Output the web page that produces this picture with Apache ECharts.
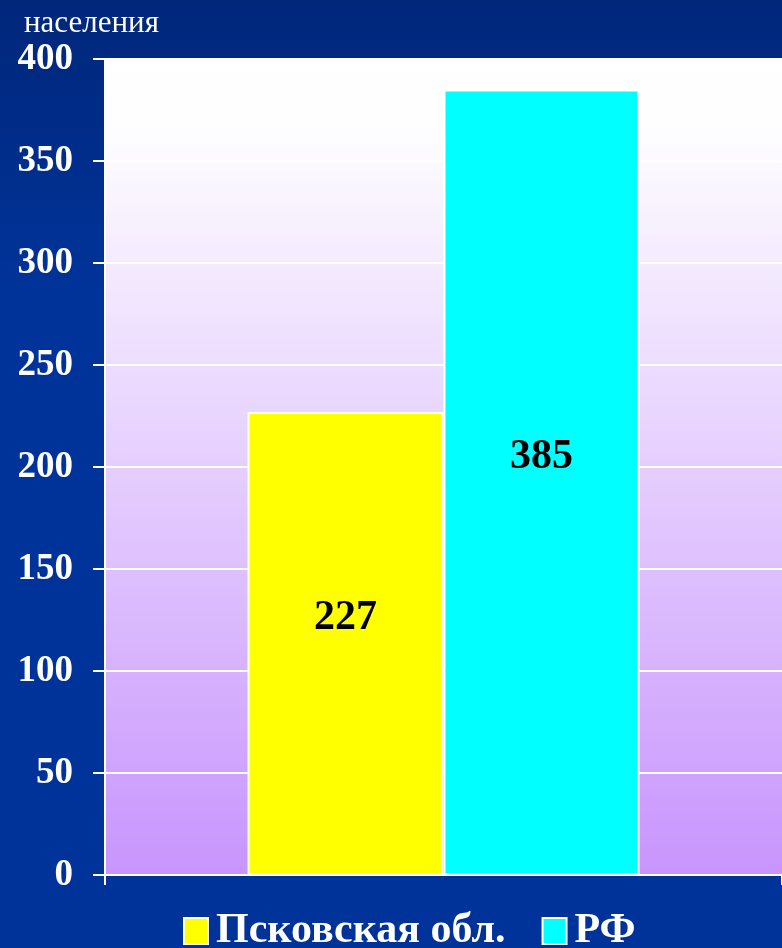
<!DOCTYPE html>
<html>
<head>
<meta charset="utf-8">
<script src="https://cdn.jsdelivr.net/npm/echarts@6/dist/echarts.min.js"></script>
<style>
html,body{margin:0;padding:0;background:#003399;}
#c{width:782px;height:948px;}
</style>
</head>
<body>
<div id="c"></div>
<script>
var titleText = 'населения';
var categories = [''];
var seriesNames = ['Псковская обл.', 'РФ'];
var pskovValues = [227];
var rfValues = [385];
var yTicks = [0, 50, 100, 150, 200, 250, 300, 350, 400];

var serif = '"Liberation Serif", "Times New Roman", serif';
var chart = echarts.init(document.getElementById('c'));
chart.setOption({
  backgroundColor: {
    type: 'linear', x: 0, y: 0, x2: 0, y2: 1,
    colorStops: [
      {offset: 0, color: '#00277a'},
      {offset: 0.3, color: '#003399'},
      {offset: 1, color: '#003399'}
    ]
  },
  animation: false,
  title: {
    text: titleText,
    left: 19, top: 3,
    textStyle: {color: '#ffffff', fontFamily: serif, fontWeight: 'normal', fontSize: 31}
  },
  legend: {
    data: seriesNames,
    left: 183, top: 910, padding: 0,
    itemWidth: 24, itemHeight: 26, itemGap: 36,
    icon: 'rect',
    itemStyle: {borderColor: '#ffffff', borderWidth: 2},
    textStyle: {color: '#ffffff', fontFamily: serif, fontWeight: 'bold', fontSize: 42, padding: [0,0,0,3]}
  },
  grid: {
    left: 105, right: 0, top: 59, bottom: 73,
    show: true, borderWidth: 0,
    backgroundColor: {
      type: 'linear', x: 0, y: 0, x2: 0, y2: 1,
      colorStops: [
        {offset: 0, color: '#ffffff'},
        {offset: 0.1, color: '#fdfcff'},
        {offset: 1, color: '#c895fd'}
      ]
    }
  },
  xAxis: {
    type: 'category',
    data: categories,
    axisLine: {show: true, lineStyle: {color: '#ffffff', width: 2}},
    axisTick: {show: true, length: 10, lineStyle: {color: '#ffffff', width: 2}},
    axisLabel: {show: false}
  },
  yAxis: {
    type: 'value',
    min: yTicks[0], max: yTicks[yTicks.length - 1], interval: 50,
    axisLine: {show: true, lineStyle: {color: '#ffffff', width: 2}},
    axisTick: {show: true, length: 12, lineStyle: {color: '#ffffff', width: 2}},
    splitLine: {show: true, lineStyle: {color: '#ffffff', width: 2}},
    axisLabel: {color: '#ffffff', fontFamily: serif, fontWeight: 'bold', fontSize: 37, margin: 32, lineHeight: 44, verticalAlign: 'middle', padding: [6,0,0,0]}
  },
  series: [
    {
      name: seriesNames[0], type: 'bar', data: pskovValues,
      barWidth: 196, barGap: '0%',
      itemStyle: {color: '#ffff00', borderColor: '#ffffff', borderWidth: 2},
      label: {show: true, position: 'inside', offset: [0, -25], color: '#000000', fontFamily: serif, fontWeight: 'bold', fontSize: 42}
    },
    {
      name: seriesNames[1], type: 'bar', data: rfValues,
      barWidth: 196, barGap: '0%',
      itemStyle: {color: '#00ffff', borderColor: '#ffffff', borderWidth: 2},
      label: {show: true, position: 'inside', offset: [0, -25], color: '#000000', fontFamily: serif, fontWeight: 'bold', fontSize: 42}
    }
  ]
});
</script>
</body>
</html>
